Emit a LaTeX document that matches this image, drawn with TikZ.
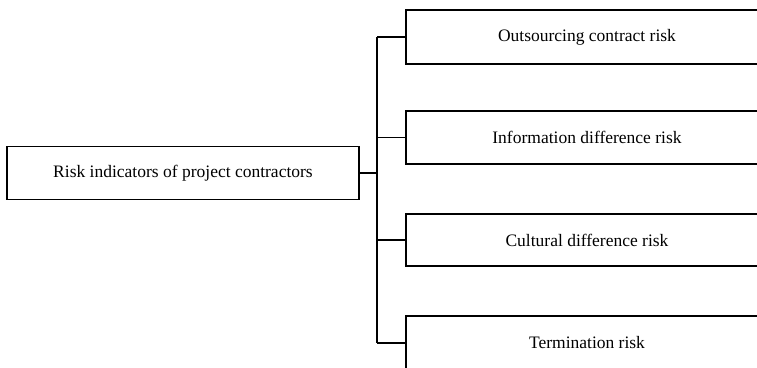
\documentclass[tikz,border=0pt]{standalone}
\usepackage{fontspec}
\setmainfont{Liberation Serif}
\usetikzlibrary{positioning}

\tikzset{
  riskbox/.style={draw, line width=1.2pt, inner sep=0pt, minimum width=362, minimum height=54,
    font=\fontsize{17.5}{21}\selectfont},
  rootbox/.style={riskbox, minimum width=352, minimum height=53},
  link/.style={line width=1.3pt}
}

\begin{document}
\begin{tikzpicture}[x=1pt,y=-1pt]
  \clip (0,0) rectangle (757,367);
  \useasboundingbox (0,0) rectangle (757,367);

  \node[rootbox] (root) at (183,173) {Risk indicators of project contractors};

  \node[riskbox] (outs) at (587,37) {Outsourcing contract risk};
  \node[riskbox, minimum height=53] (info) at (587,137.5) {Information difference risk};
  \node[riskbox, minimum height=52] (cult) at (587,240) {Cultural difference risk};
  \node[riskbox] (term) at (587,343) {Termination risk};

  % trunk between the boxes
  \coordinate (trunktop) at (377,37);
  \coordinate (trunkbot) at (377,343);
  \draw[link] (trunktop) -- (trunkbot);

  \draw[link] (root.east) -- (root.east -| trunktop);
  \foreach \n in {outs,info,cult,term}
    \draw[link] (\n.west) -- (\n.west -| trunktop);
\end{tikzpicture}
\end{document}
